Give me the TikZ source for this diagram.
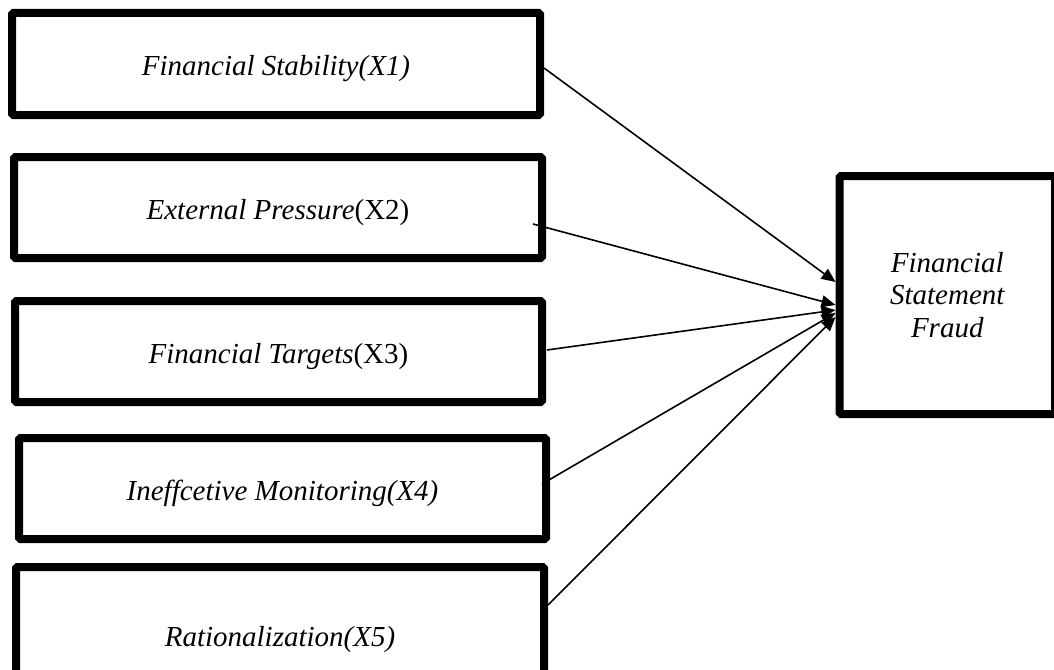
\documentclass[tikz,border=0pt]{standalone}
\usepackage{fontspec}
\setmainfont{Liberation Serif}
\usetikzlibrary{arrows.meta}
\begin{document}
\begin{tikzpicture}[x=1pt,y=-1pt,
  inbox/.style={draw, line width=8pt, rounded corners=1.5pt, minimum width=528pt,
    minimum height=101pt, inner sep=0pt, font=\fontsize{29}{34}\selectfont,
    text height=23pt, text depth=0pt},
  outbox/.style={draw, line width=8pt, rounded corners=1.5pt, minimum width=215.5pt,
    minimum height=238pt, inner sep=0pt, align=center,
    font=\fontsize{29}{32.5}\selectfont\itshape},
  conn/.style={line width=1.6pt, -{Triangle[length=14pt,width=12pt]}}]
\useasboundingbox (0,0) rectangle (1054,669);
\clip (0,0) rectangle (1054,669);
\node[inbox, minimum height=102pt] (b1) at (276,64) {\textit{Financial Stability(X1)}};
\node[inbox] (b2) at (278,207.5) {\textit{External Pressure}(X2)};
\node[inbox, minimum width=527pt] (b3) at (278.5,351.5) {\textit{Financial Targets}(X3)};
\node[inbox, minimum width=527pt] (b4) at (282.5,488.5) {\textit{Ineffcetive Monitoring(X4)}};
\node[inbox, minimum height=135pt] (b5) at (280,634.5) {\textit{Rationalization(X5)}};
\node[outbox] (f) at (947.25,295) {Financial\\Statement\\Fraud};
\draw[conn] ([shift={(0,4)}]b1.east) -- ([shift={(0,-13)}]f.west);
\draw[conn] ([shift={(-13,16.5)}]b2.east) -- ([shift={(0,10)}]f.west);
\draw[conn] ([shift={(1,-1.5)}]b3.east) -- ([shift={(0,15)}]f.west);
\draw[conn] ([shift={(-8,-4.5)}]b4.east) -- ([shift={(0,18)}]f.west);
\draw[conn] ([shift={(0,-29.5)}]b5.east) -- ([shift={(0,22)}]f.west);
\end{tikzpicture}
\end{document}
